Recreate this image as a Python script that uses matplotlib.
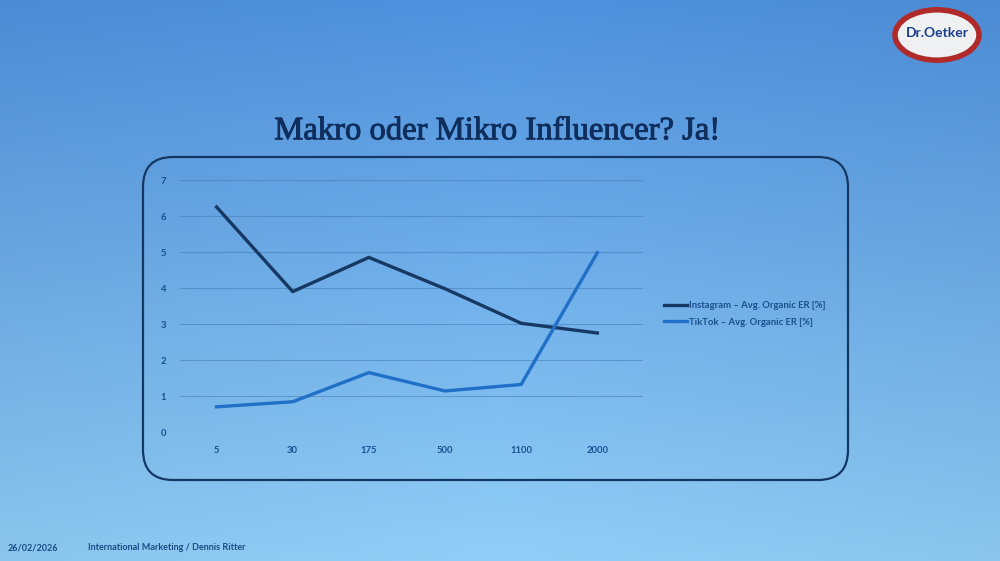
import numpy as np
import matplotlib
matplotlib.use("Agg")
import matplotlib.pyplot as plt
from matplotlib.patches import FancyBboxPatch, Ellipse
import matplotlib.patheffects as pe

# ---- data ----
categories = ["5", "30", "175", "500", "1100", "2000"]
instagram_er = [6.25, 3.9, 4.85, 3.98, 3.02, 2.75]
tiktok_er = [0.7, 0.84, 1.65, 1.14, 1.32, 4.98]
series_labels = ["Instagram \u2013 Avg. Organic ER [%]", "TikTok \u2013 Avg. Organic ER [%]"]
y_ticks = [0, 1, 2, 3, 4, 5, 6, 7]
title = "Makro oder Mikro Influencer? Ja!"
footer_date = "26/02/2026"
footer_text = "International Marketing / Dennis Ritter"

W, H = 1000, 561
fig = plt.figure(figsize=(W / 100, H / 100), dpi=100)

# background gradient
bg = fig.add_axes([0, 0, 1, 1])
bg.set_axis_off()
yy, xx = np.mgrid[0:1:200j, 0:1:360j]
top = np.array([0.31, 0.57, 0.87])
bot = np.array([0.57, 0.81, 0.97])
t = yy[..., None]
img = top * (1 - t) + bot * t
edge = np.clip(1 - 1.2 * np.abs(xx - 0.5), 0, 1)[..., None]
img = img * (0.93 + 0.07 * edge)
bg.imshow(img, extent=[0, 1, 0, 1], aspect="auto", origin="upper", zorder=0)
bg.set_xlim(0, 1)
bg.set_ylim(0, 1)

def fx(px):
    return px / W

def fy(py):
    return 1 - py / H

# rounded box
box = FancyBboxPatch((fx(143), fy(480)), fx(848) - fx(143), fy(157) - fy(480),
                     boxstyle="round,pad=0,rounding_size=0.03",
                     transform=bg.transAxes, fill=False, ec="#143764", lw=1.6,
                     mutation_aspect=W / H, zorder=2)
bg.add_patch(box)

# title
fig.text(0.497, fy(131), title, ha="center", va="center",
         fontsize=23.5, color="#0f2e5c", family="Liberation Serif",
         path_effects=[pe.withStroke(linewidth=0.7, foreground="#0f2e5c")])

# footer
fig.text(fx(8), fy(548), footer_date, ha="left", va="center", fontsize=6.5,
         color="#1a4a85", family="Lato", fontweight="bold")
fig.text(fx(88), fy(548), footer_text, ha="left", va="center", fontsize=6.5,
         color="#1a4a85", family="Lato", fontweight="bold")

# logo
logo = Ellipse((fx(937), fy(35)), fx(84), fx(84) * 0.6 * W / H, transform=bg.transAxes,
               fc="#eef0f2", ec="#b02a2a", lw=4, zorder=3)
bg.add_patch(logo)
fig.text(fx(937), fy(33), "Dr.Oetker", ha="center", va="center", fontsize=10,
         color="#1b3f8a", family="Lato", fontweight="bold", zorder=4)

# chart axes
x0, x1 = 180, 643
y0, y1 = 432, 180
ax = fig.add_axes([fx(x0), fy(y0), fx(x1) - fx(x0), fy(y1) - fy(y0)])
ax.patch.set_alpha(0)
x = np.arange(len(categories))
ax.plot(x, instagram_er, color="#173863", lw=2.4, label=series_labels[0])
ax.plot(x, tiktok_er, color="#1f70c6", lw=2.4, label=series_labels[1])
ax.set_xlim(-0.48, 5.6)
ax.set_ylim(0, 7)
ax.set_yticks(y_ticks)
ax.set_xticks(x)
ax.set_xticklabels(categories)
ax.grid(axis="y", color="#3c6ea8", lw=0.8, alpha=0.45)
ax.set_axisbelow(True)
for s in ax.spines.values():
    s.set_visible(False)
ax.tick_params(length=0, colors="#1a4f8e", labelsize=6.8, pad=10)
for lab in ax.get_xticklabels() + ax.get_yticklabels():
    lab.set_fontweight("bold")
    lab.set_family("Lato")

leg = ax.legend(loc="center left", bbox_to_anchor=(fx(655), fy(314)),
                bbox_transform=fig.transFigure, frameon=False, fontsize=6.8,
                handlelength=2.5, handletextpad=0.2, labelspacing=0.75)
for txt in leg.get_texts():
    txt.set_color("#1a4f8e")
    txt.set_family("Lato")
    txt.set_fontweight("bold")

fig.savefig("out.png", dpi=100)
